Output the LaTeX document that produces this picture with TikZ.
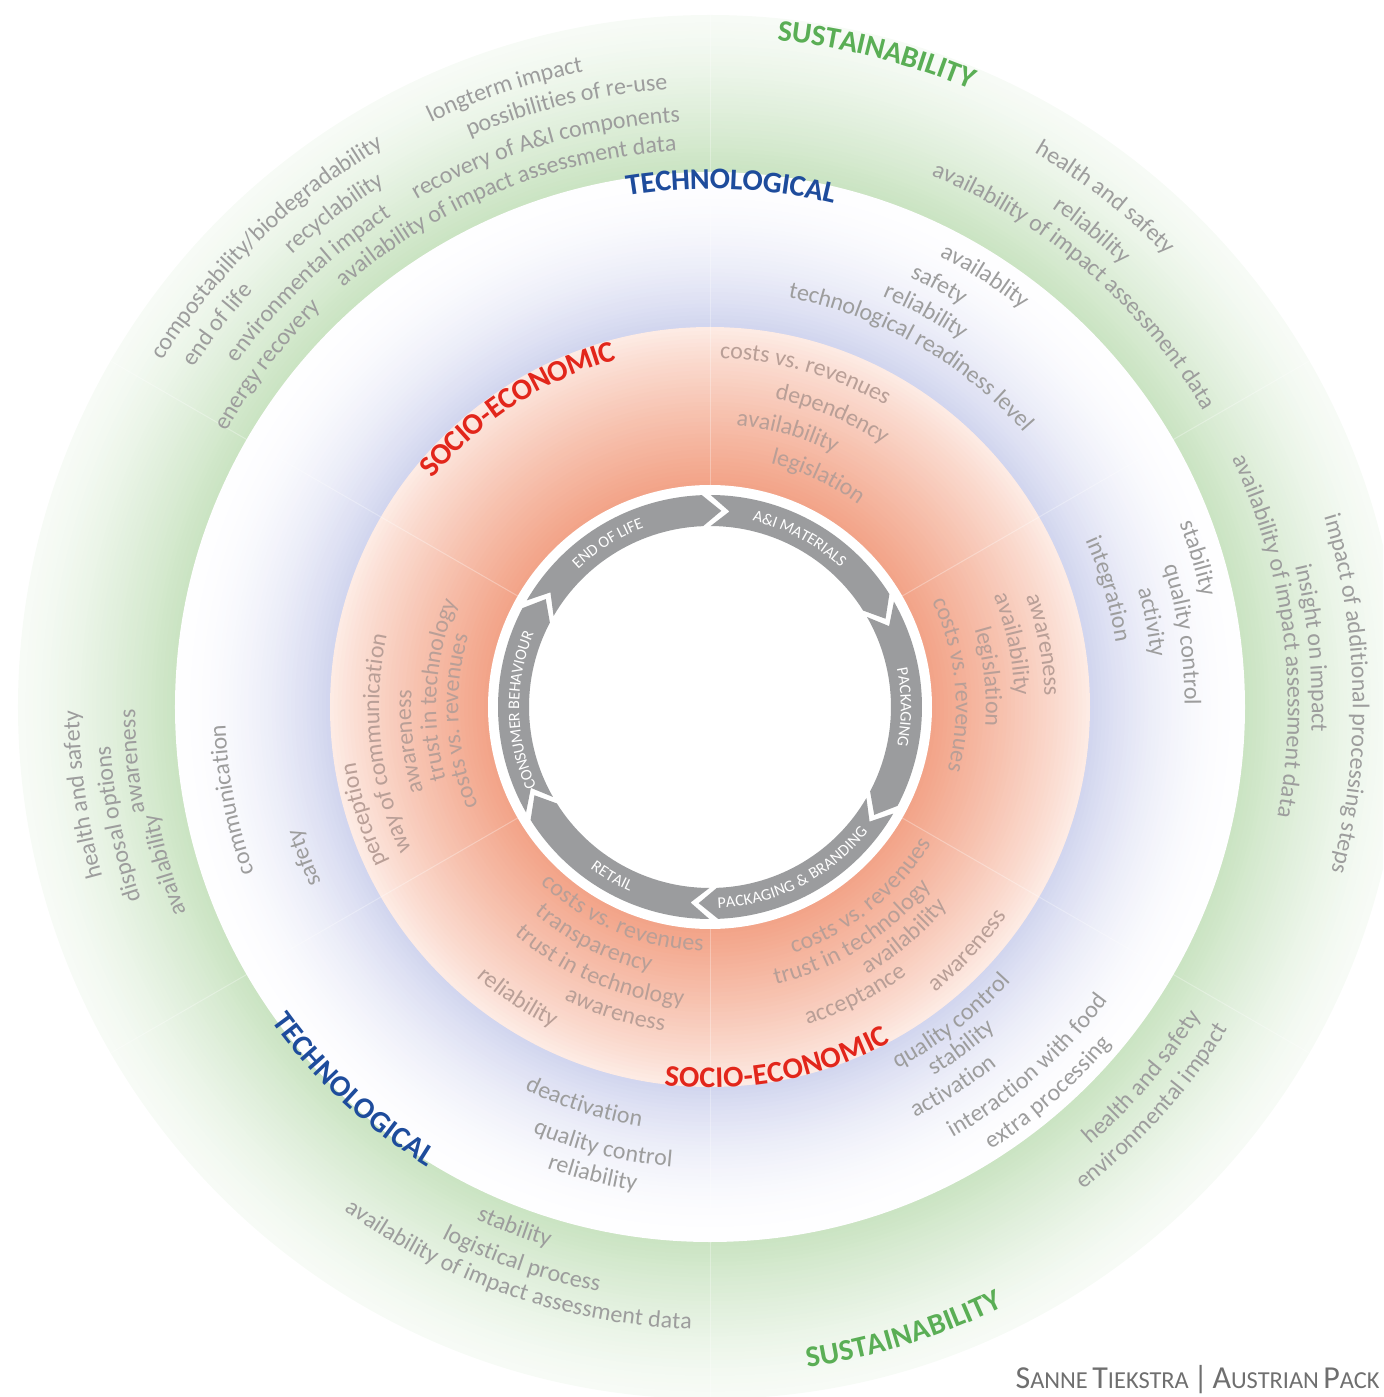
\documentclass[tikz,border=0pt]{standalone}
\usepackage{fontspec}
\setmainfont{Carlito}
\usetikzlibrary{decorations.text}

\definecolor{salmonin}{HTML}{F2A286}
\definecolor{salmonout}{HTML}{FDEBE4}
\definecolor{lavin}{HTML}{D0D4EE}
\definecolor{lavout}{HTML}{FEFEFF}
\definecolor{greenin}{HTML}{C9E3C1}
\definecolor{greenout}{HTML}{F7FBF6}
\definecolor{arrowgray}{HTML}{9B9C9E}
\definecolor{labelgray}{HTML}{9D9D9D}
\definecolor{labelred}{HTML}{B99F97}
\definecolor{headgreen}{HTML}{5AAE55}
\definecolor{headblue}{HTML}{1E4C9C}
\definecolor{headred}{HTML}{E2261B}
\definecolor{creditgray}{HTML}{6F6F6F}

\newcommand\labelfont{\fontsize{12}{14}\selectfont}
\newcommand\headfont{\fontsize{15}{17}\selectfont\bfseries}
\newcommand\stagefont{\fontsize{8.1}{10}\selectfont}
\newcommand\creditsc[2]{{\fontsize{16}{18}\selectfont #1}{\fontsize{12.2}{14}\selectfont #2}}

% text on a circle round the centre, tops outward: [raise] font, colour, radius, angle, text
\newcommand\arcout[6][-2.6pt]{%
  \path[decorate, decoration={text along path, text align=center, raise=#1,
    text color=#3, text={|#2|#6}}]
    (#5+40:#4) arc[start angle=#5+40, end angle=#5-40, radius=#4];}
% the same, tops inward
\newcommand\arcin[6][-2.6pt]{%
  \path[decorate, decoration={text along path, text align=center, raise=#1,
    text color=#3, text={|#2|#6}}]
    (#5-40:#4) arc[start angle=#5-40, end angle=#5+40, radius=#4];}

\begin{document}
\begin{tikzpicture}[x=0.5pt, y=0.5pt]
\useasboundingbox (-710,-690) rectangle (673,707);
\clip (-710,-690) rectangle (673,707);

% rings, from the outside in
\foreach \k in {0,...,40}{
  \pgfmathtruncatemacro\pp{100*(\k/40)^1.3}
  \fill[greenin!\pp!greenout] (0,0) circle[radius={692-\k*157/40}];
}
\foreach \k in {0,...,40}{
  \pgfmathtruncatemacro\pp{100*(\k/40)^1.8}
  \fill[lavin!\pp!lavout] (0,0) circle[radius={535-\k*155/40}];
}
\foreach \k in {0,...,40}{
  \pgfmathtruncatemacro\pp{100*(\k/40)^0.9}
  \fill[salmonin!\pp!salmonout] (0,0) circle[radius={380-\k*158/40}];
}
\foreach \a in {90,30,-30,-90,-150,150}
  \draw[white, opacity=0.3, line width=0.5pt] (\a:222) -- (\a:692);
\fill[white] (0,0) circle[radius=222];

% life cycle arrows
\foreach \g in {91,31,-29,-89,-149,151}{
  \pgfmathsetmacro\t{\g-1.2}
  \pgfmathsetmacro\h{\g-58.8}
  \fill[arrowgray] (\t:212) arc[start angle=\t, end angle=\h, radius=212]
    -- (\h-5.5:196.5) -- (\h:181) arc[start angle=\h, end angle=\t, radius=181]
    -- (\t-5.5:196.5) -- cycle;
}
\arcout[-2.6pt]{\stagefont}{white}{196}{62}{A{\&}I MATERIALS}
\arcout[-2.6pt]{\stagefont}{white}{196}{0}{PACKAGING}
\arcin[-2.6pt]{\stagefont}{white}{196}{-63}{PACKAGING {\&} BRANDING}
\arcin[-2.6pt]{\stagefont}{white}{196}{-120}{RETAIL}
\arcout[-2.6pt]{\stagefont}{white}{196}{181}{CONSUMER BEHAVIOUR}
\arcout[-2.6pt]{\stagefont}{white}{196}{122}{END OF LIFE}

% headings
\arcout[-4.9pt]{\headfont}{headgreen}{680}{75.7}{SUSTAINABILITY}
\arcin[-4.9pt]{\headfont}{headgreen}{658}{-72.8}{SUSTAINABILITY}
\arcout[-4.9pt]{\headfont}{headblue}{528}{87.7}{TECHNOLOGICAL}
\arcin[-4.9pt]{\headfont}{headblue}{530}{227}{TECHNOLOGICAL}
\arcout[-4.9pt]{\headfont}{headred}{369}{122.8}{SOCIO-ECONOMIC}
\arcin[-4.9pt]{\headfont}{headred}{371}{-79.3}{SOCIO-ECONOMIC}

% sustainability
\arcout{\labelfont}{labelgray}{653}{134}{compostability/biodegradability}
\arcout{\labelfont}{labelgray}{623}{142.2}{end of life}
\arcout{\labelfont}{labelgray}{621}{127.3}{recyclability}
\arcout{\labelfont}{labelgray}{590}{133.5}{environmental impact}
\arcout{\labelfont}{labelgray}{562}{142.3}{energy recovery}
\arcout{\labelfont}{labelgray}{653}{108.4}{longterm impact}
\arcout{\labelfont}{labelgray}{624}{103.4}{possibilities of re-use}
\arcout{\labelfont}{labelgray}{591}{106.5}{recovery of A{\&}I components}
\arcout{\labelfont}{labelgray}{562}{112.3}{availability of impact assessment data}
\arcout{\labelfont}{labelgray}{647}{52.2}{health and safety}
\arcout{\labelfont}{labelgray}{610}{51.3}{reliability}
\arcout{\labelfont}{labelgray}{581}{49.2}{availability of impact assessment data}
\arcout{\labelfont}{labelgray}{583}{7.3}{availability of impact assessment data}
\arcout{\labelfont}{labelgray}{607}{5.6}{insight on impact}
\arcout{\labelfont}{labelgray}{648}{1.2}{impact of additional processing steps}
\arcin{\labelfont}{labelgray}{575}{-40.6}{health and safety}
\arcin{\labelfont}{labelgray}{605}{-42.1}{environmental impact}
\arcin{\labelfont}{labelgray}{558}{249.4}{stability}
\arcin{\labelfont}{labelgray}{590}{251.2}{logistical process}
\arcin{\labelfont}{labelgray}{617}{251.1}{availability of impact assessment data}
\arcout{\labelfont}{labelgray}{636}{188}{health and safety}
\arcout{\labelfont}{labelgray}{606}{191.2}{disposal options}
\arcout{\labelfont}{labelgray}{568}{196.2}{availability}
\arcout{\labelfont}{labelgray}{580}{185.4}{awareness}

% technological
\arcout{\labelfont}{labelgray}{511}{57.5}{availablity}
\arcout{\labelfont}{labelgray}{479}{61.5}{safety}
\arcout{\labelfont}{labelgray}{450}{61.4}{reliability}
\arcout{\labelfont}{labelgray}{422}{60.2}{technological readiness level}
\arcout{\labelfont}{labelgray}{509}{17}{stability}
\arcout{\labelfont}{labelgray}{480}{8.7}{quality control}
\arcout{\labelfont}{labelgray}{449}{10.9}{activity}
\arcout{\labelfont}{labelgray}{416}{16.5}{integration}
\arcin{\labelfont}{labelgray}{402}{-52.5}{quality control}
\arcin{\labelfont}{labelgray}{426}{-53.6}{stability}
\arcin{\labelfont}{labelgray}{454}{-57.4}{activation}
\arcin{\labelfont}{labelgray}{489}{-48.5}{interaction with food}
\arcin{\labelfont}{labelgray}{519}{-48.8}{extra processing}
\arcin{\labelfont}{labelgray}{420}{252.4}{deactivation}
\arcin{\labelfont}{labelgray}{456}{256.3}{quality control}
\arcin{\labelfont}{labelgray}{484}{255.9}{reliability}
\arcout{\labelfont}{labelgray}{490}{191}{communication}
\arcout{\labelfont}{labelgray}{432}{200.4}{safety}

% socio-economic
\arcout{\labelfont}{labelred}{354}{74.1}{costs vs. revenues}
\arcout{\labelfont}{labelred}{320}{67.4}{dependency}
\arcout{\labelfont}{labelred}{288}{74.3}{availability}
\arcout{\labelfont}{labelred}{256}{64.9}{legislation}
\arcout{\labelfont}{labelred}{340}{10.6}{awareness}
\arcout{\labelfont}{labelred}{310}{11.8}{availability}
\arcout{\labelfont}{labelred}{281}{6.2}{legislation}
\arcout{\labelfont}{labelred}{251}{5.3}{costs vs. revenues}
\arcin{\labelfont}{labelred}{255}{-51.5}{costs vs. revenues}
\arcin{\labelfont}{labelred}{280}{-57.9}{trust in technology}
\arcin{\labelfont}{labelred}{305}{-49.8}{availability}
\arcin{\labelfont}{labelred}{327}{-63.3}{acceptance}
\arcin{\labelfont}{labelred}{358}{-43.4}{awareness}
\arcin{\labelfont}{labelred}{239}{247.3}{costs vs. revenues}
\arcin{\labelfont}{labelred}{266}{243.5}{transparency}
\arcin{\labelfont}{labelred}{295}{247.1}{trust in technology}
\arcin{\labelfont}{labelred}{322}{252.7}{awareness}
\arcin{\labelfont}{labelred}{352}{236.5}{reliability}
\arcout{\labelfont}{labelred}{364}{197.3}{perception}
\arcout{\labelfont}{labelred}{336}{186.5}{way of communication}
\arcout{\labelfont}{labelred}{304}{186.6}{awareness}
\arcout{\labelfont}{labelred}{279}{176.4}{trust in technology}
\arcout{\labelfont}{labelred}{257}{183.3}{costs vs. revenues}

\node[anchor=base east, text=creditgray, inner sep=0pt] (credit) at (670,-681)
  {\creditsc{S}{ANNE} \creditsc{T}{IEKSTRA} {\fontsize{16}{18}\selectfont|} \creditsc{A}{USTRIAN} \creditsc{P}{ACK}};
\end{tikzpicture}
\end{document}
